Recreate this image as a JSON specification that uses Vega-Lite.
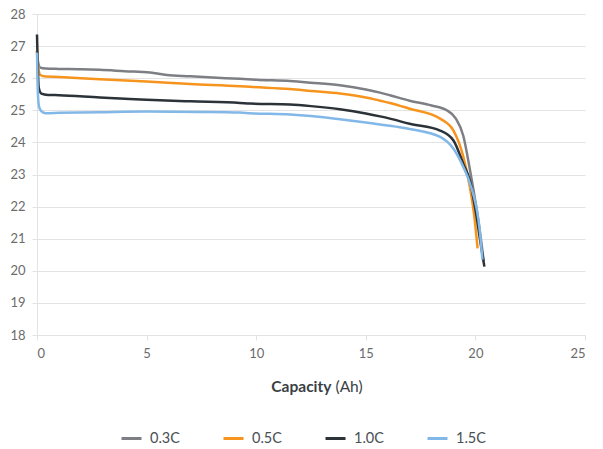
{
  "$schema": "https://vega.github.io/schema/vega-lite/v6.json",
  "width": 548,
  "height": 321,
  "autosize": {"type": "none"},
  "padding": {"left": 37, "top": 14, "right": 18, "bottom": 114},
  "background": "#ffffff",
  "config": {
    "font": "Lato",
    "view": {"stroke": null},
    "axis": {
      "labelColor": "#6b6b6b",
      "labelFontSize": 13,
      "domainColor": "#e3e3e3",
      "tickColor": "#e3e3e3",
      "gridColor": "#e3e3e3",
      "titleColor": "#3a3f44",
      "titleFontSize": 15.5
    }
  },
  "data": {
    "values": [
      {"s": "0.3C", "x": 0, "v": 26.85}, {"s": "0.3C", "x": 0.05, "v": 26.5}, {"s": "0.3C", "x": 0.15, "v": 26.33}, {"s": "0.3C", "x": 0.4, "v": 26.3}, {"s": "0.3C", "x": 1, "v": 26.29}, {"s": "0.3C", "x": 2, "v": 26.28}, {"s": "0.3C", "x": 2.87, "v": 26.26}, {"s": "0.3C", "x": 4, "v": 26.22}, {"s": "0.3C", "x": 5.16, "v": 26.18}, {"s": "0.3C", "x": 5.92, "v": 26.1}, {"s": "0.3C", "x": 7, "v": 26.06}, {"s": "0.3C", "x": 8, "v": 26.02}, {"s": "0.3C", "x": 9.26, "v": 25.98}, {"s": "0.3C", "x": 10, "v": 25.95}, {"s": "0.3C", "x": 11.54, "v": 25.91}, {"s": "0.3C", "x": 12.5, "v": 25.86}, {"s": "0.3C", "x": 13.82, "v": 25.78}, {"s": "0.3C", "x": 15, "v": 25.65}, {"s": "0.3C", "x": 15.65, "v": 25.55}, {"s": "0.3C", "x": 16.1, "v": 25.47}, {"s": "0.3C", "x": 17, "v": 25.3}, {"s": "0.3C", "x": 18, "v": 25.15}, {"s": "0.3C", "x": 18.69, "v": 25.0}, {"s": "0.3C", "x": 19.1, "v": 24.75}, {"s": "0.3C", "x": 19.45, "v": 24.2}, {"s": "0.3C", "x": 19.75, "v": 23.15}, {"s": "0.3C", "x": 20.06, "v": 21.9}, {"s": "0.3C", "x": 20.25, "v": 21.0}, {"s": "0.3C", "x": 20.38, "v": 20.3},
      {"s": "0.5C", "x": 0, "v": 26.85}, {"s": "0.5C", "x": 0.05, "v": 26.4}, {"s": "0.5C", "x": 0.15, "v": 26.1}, {"s": "0.5C", "x": 0.4, "v": 26.05}, {"s": "0.5C", "x": 1, "v": 26.04}, {"s": "0.5C", "x": 2, "v": 26.0}, {"s": "0.5C", "x": 2.87, "v": 25.97}, {"s": "0.5C", "x": 5, "v": 25.9}, {"s": "0.5C", "x": 7, "v": 25.82}, {"s": "0.5C", "x": 9.26, "v": 25.75}, {"s": "0.5C", "x": 9.72, "v": 25.73}, {"s": "0.5C", "x": 11.54, "v": 25.66}, {"s": "0.5C", "x": 12.5, "v": 25.6}, {"s": "0.5C", "x": 13.82, "v": 25.52}, {"s": "0.5C", "x": 15, "v": 25.4}, {"s": "0.5C", "x": 15.65, "v": 25.3}, {"s": "0.5C", "x": 16.1, "v": 25.23}, {"s": "0.5C", "x": 17, "v": 25.05}, {"s": "0.5C", "x": 18.39, "v": 24.74}, {"s": "0.5C", "x": 19.0, "v": 24.37}, {"s": "0.5C", "x": 19.45, "v": 23.55}, {"s": "0.5C", "x": 19.75, "v": 22.6}, {"s": "0.5C", "x": 19.95, "v": 21.7}, {"s": "0.5C", "x": 20.1, "v": 20.7},
      {"s": "1.0C", "x": 0, "v": 27.36}, {"s": "1.0C", "x": 0.03, "v": 26.5}, {"s": "1.0C", "x": 0.08, "v": 25.7}, {"s": "1.0C", "x": 0.2, "v": 25.52}, {"s": "1.0C", "x": 0.5, "v": 25.48}, {"s": "1.0C", "x": 1, "v": 25.47}, {"s": "1.0C", "x": 2.87, "v": 25.4}, {"s": "1.0C", "x": 3.79, "v": 25.37}, {"s": "1.0C", "x": 5, "v": 25.33}, {"s": "1.0C", "x": 7, "v": 25.28}, {"s": "1.0C", "x": 9.26, "v": 25.23}, {"s": "1.0C", "x": 9.72, "v": 25.21}, {"s": "1.0C", "x": 11.54, "v": 25.18}, {"s": "1.0C", "x": 12.5, "v": 25.13}, {"s": "1.0C", "x": 13.82, "v": 25.03}, {"s": "1.0C", "x": 15, "v": 24.9}, {"s": "1.0C", "x": 15.65, "v": 24.81}, {"s": "1.0C", "x": 16.1, "v": 24.74}, {"s": "1.0C", "x": 17, "v": 24.58}, {"s": "1.0C", "x": 18.39, "v": 24.37}, {"s": "1.0C", "x": 19.0, "v": 24.06}, {"s": "1.0C", "x": 19.45, "v": 23.33}, {"s": "1.0C", "x": 19.75, "v": 22.8}, {"s": "1.0C", "x": 20.06, "v": 21.66}, {"s": "1.0C", "x": 20.25, "v": 20.8}, {"s": "1.0C", "x": 20.41, "v": 20.13},
      {"s": "1.5C", "x": 0, "v": 26.8}, {"s": "1.5C", "x": 0.02, "v": 26.0}, {"s": "1.5C", "x": 0.05, "v": 25.4}, {"s": "1.5C", "x": 0.1, "v": 25.1}, {"s": "1.5C", "x": 0.2, "v": 24.97}, {"s": "1.5C", "x": 0.4, "v": 24.91}, {"s": "1.5C", "x": 1, "v": 24.92}, {"s": "1.5C", "x": 2.87, "v": 24.94}, {"s": "1.5C", "x": 5, "v": 24.96}, {"s": "1.5C", "x": 7.44, "v": 24.95}, {"s": "1.5C", "x": 9.26, "v": 24.93}, {"s": "1.5C", "x": 9.72, "v": 24.91}, {"s": "1.5C", "x": 11.54, "v": 24.87}, {"s": "1.5C", "x": 12.5, "v": 24.82}, {"s": "1.5C", "x": 13.82, "v": 24.72}, {"s": "1.5C", "x": 15, "v": 24.62}, {"s": "1.5C", "x": 15.65, "v": 24.56}, {"s": "1.5C", "x": 16.1, "v": 24.52}, {"s": "1.5C", "x": 17, "v": 24.42}, {"s": "1.5C", "x": 18.39, "v": 24.17}, {"s": "1.5C", "x": 19.0, "v": 23.8}, {"s": "1.5C", "x": 19.45, "v": 23.23}, {"s": "1.5C", "x": 19.75, "v": 22.72}, {"s": "1.5C", "x": 20.2, "v": 21.25}, {"s": "1.5C", "x": 20.32, "v": 20.35}
    ]
  },
  "layer": [
    {
      "mark": {"type": "line", "interpolate": "monotone", "strokeWidth": 2.5},
      "encoding": {
        "x": {
          "field": "x", "type": "quantitative",
          "scale": {"domain": [0, 25], "nice": false},
          "axis": {
            "values": [0, 5, 10, 15, 20, 25],
            "grid": false,
            "tickSize": 5,
            "labelPadding": 7,
            "title": "Capacity",
            "titleFontWeight": "bold",
            "titleAlign": "right",
            "titleBaseline": "alphabetic",
            "titleX": 294,
            "titleY": 56
          }
        },
        "y": {
          "field": "v", "type": "quantitative",
          "scale": {"domain": [18, 28], "nice": false},
          "axis": {
            "values": [18, 19, 20, 21, 22, 23, 24, 25, 26, 27, 28],
            "title": null,
            "tickSize": 5,
            "labelPadding": 7
          }
        },
        "color": {
          "field": "s", "type": "nominal",
          "scale": {"domain": ["0.3C", "0.5C", "1.0C", "1.5C"], "range": ["#7d7f84", "#f7941d", "#2b3238", "#82b8e8"]},
          "legend": {
            "title": null,
            "orient": "none",
            "direction": "horizontal",
            "legendX": 83,
            "legendY": 413,
            "symbolType": "stroke",
            "symbolSize": 400,
            "symbolStrokeWidth": 3,
            "labelFontSize": 14.5,
            "labelColor": "#4a4f54",
            "labelOffset": 7,
            "columnPadding": 37,
            "padding": 0
          }
        }
      }
    },
    {
      "mark": {"type": "line", "opacity": 0},
      "encoding": {
        "x": {
          "field": "x", "type": "quantitative",
          "scale": {"domain": [0, 25], "nice": false},
          "axis": {
            "orient": "bottom",
            "labels": false, "ticks": false, "domain": false, "grid": false,
            "title": "(Ah)",
            "titleFontWeight": "normal",
            "titleAlign": "left",
            "titleBaseline": "alphabetic",
            "titleX": 298,
            "titleY": 56
          }
        }
      }
    }
  ],
  "resolve": {"scale": {"x": "independent"}, "axis": {"x": "independent"}}
}
